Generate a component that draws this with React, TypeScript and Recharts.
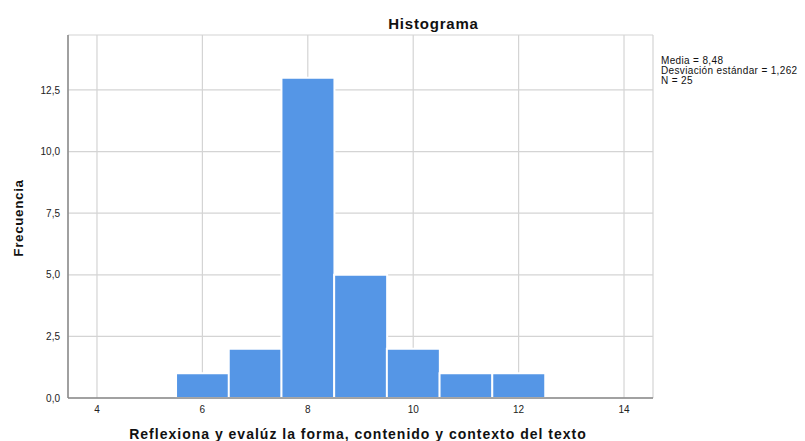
import { Bar, BarChart, CartesianGrid, XAxis, YAxis } from "recharts";

// Bins (integer scores) and their frequencies
const bins = [4, 5, 6, 7, 8, 9, 10, 11, 12, 13, 14];
const counts = [0, 0, 1, 2, 13, 5, 2, 1, 1, 0, 0];
const xTicks = [4, 6, 8, 10, 12, 14];
const yTicks = [0, 2.5, 5, 7.5, 10, 12.5];
const statLines = ["Media = 8,48", "Desviación estándar = 1,262", "N = 25"];

const data = bins.map((b, i) => ({ bin: b, count: counts[i] }));

const font = "Arial, 'Liberation Sans', sans-serif";
const fmt = (v: number) => `${v}`.replace(".", ",");
const fmtY = (v: number) => v.toFixed(1).replace(".", ",");

export default function App() {
  return (
    <div
      style={{
        position: "absolute",
        left: 0,
        top: 0,
        width: 805,
        height: 441,
        background: "#fff",
        fontFamily: font,
        overflow: "hidden",
        color: "#111",
      }}
    >
      <BarChart
        width={805}
        height={441}
        data={data}
        margin={{ top: 35, right: 152, bottom: 18, left: 8 }}
        barCategoryGap={0}
        barGap={0}
      >
        <CartesianGrid stroke="#d4d4d4" strokeWidth={1.2} />
        <XAxis
          dataKey="bin"
          type="number"
          domain={[3.45, 14.55]}
          ticks={xTicks}
          tickFormatter={fmt}
          tickLine={false}
          axisLine={{ stroke: "#888", strokeWidth: 1.5 }}
          tick={{ fill: "#222", fontSize: 10, fontFamily: font }}
          height={25}
          allowDataOverflow
        />
        <YAxis
          type="number"
          domain={[0, 14.73]}
          ticks={yTicks}
          tickFormatter={fmtY}
          tickLine={false}
          axisLine={{ stroke: "#888", strokeWidth: 1.5 }}
          tick={{ fill: "#222", fontSize: 10, fontFamily: font }}
          width={60}
          allowDataOverflow
        />
        <Bar
          dataKey="count"
          fill="#5596e6"
          stroke="#ffffff"
          strokeWidth={2}
          isAnimationActive={false}
        />
      </BarChart>
      <div
        style={{
          position: "absolute",
          left: 0,
          width: 867,
          top: 17,
          textAlign: "center",
          fontWeight: "bold",
          fontSize: 15,
          lineHeight: "14px",
          letterSpacing: 0.8,
        }}
      >
        Histograma
      </div>
      <div
        style={{
          position: "absolute",
          left: 18,
          top: 218,
          transform: "translate(-50%, -50%) rotate(-90deg)",
          fontWeight: "bold",
          fontSize: 13.5,
          letterSpacing: 0.6,
          whiteSpace: "nowrap",
        }}
      >
        Frecuencia
      </div>
      <div
        style={{
          position: "absolute",
          left: 0,
          width: 716,
          top: 427,
          textAlign: "center",
          fontWeight: "bold",
          fontSize: 14,
          lineHeight: "14px",
          letterSpacing: 1,
          whiteSpace: "nowrap",
        }}
      >
        Reflexiona y evalúz la forma, contenido y contexto del texto
      </div>
      <div
        style={{
          position: "absolute",
          left: 661,
          top: 56,
          fontSize: 10,
          lineHeight: "10.2px",
          letterSpacing: 0.35,
          whiteSpace: "nowrap",
        }}
      >
        {statLines.map((s) => (
          <div key={s}>{s}</div>
        ))}
      </div>
    </div>
  );
}
